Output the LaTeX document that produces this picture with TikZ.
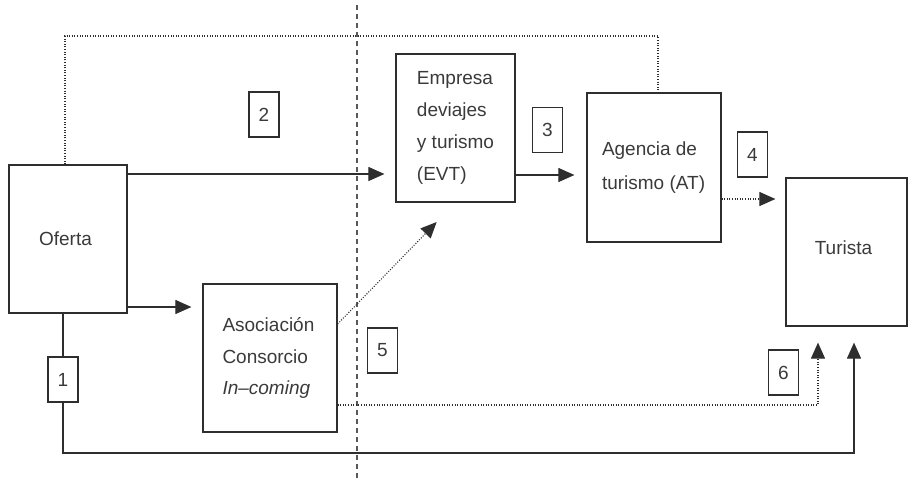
\documentclass[tikz,border=0pt]{standalone}
\usepackage{fontspec}
\setmainfont{Liberation Sans}
\usetikzlibrary{arrows.meta}
\definecolor{ink}{HTML}{2E2E2E}
\definecolor{txt}{HTML}{3A3A3A}
\tikzset{
  every node/.style={font=\fontsize{19}{32}\selectfont, text=txt},
  box/.style={draw=ink, line width=1.2pt, rectangle, inner sep=0pt, align=left},
  numbox/.style={draw=ink, line width=1.1pt, rectangle, inner sep=0pt,
    minimum width=30pt, minimum height=45pt},
  link/.style={draw=ink, line width=1.1pt},
  arr/.style={link, -{Triangle[length=16pt,width=14pt]}},
  dotline/.style={draw=ink, line width=1.1pt, dash pattern=on 1pt off 1.6pt},
  darr/.style={dotline, -{Triangle[length=16pt,width=14pt,sep=0pt]}},
  divider/.style={draw=ink!80, line width=1.4pt, dash pattern=on 4.5pt off 4.5pt}
}
\begin{document}
\begin{tikzpicture}[x=1pt, y=-1pt]
\useasboundingbox (0,0) rectangle (908,482);

% main boxes
\node[box, minimum width=118pt, minimum height=148pt] (ofe) at (68,239)
  {\hspace*{-5pt}Oferta};
\node[box, minimum width=119pt, minimum height=148pt] (evt) at (455.5,128)
  {Empresa\\deviajes\\y turismo\\(EVT)};
\node[box, minimum width=134pt, minimum height=149pt] (at) at (654,167.5)
  {\raisebox{7pt}{\parbox{104pt}{\raggedright\baselineskip=34pt Agencia de\\turismo (AT)}}};
\node[box, minimum width=134pt, minimum height=148pt] (asoc) at (270,358)
  {\raisebox{4pt}{\parbox{95pt}{\raggedright\baselineskip=31.5pt Asociación\\Consorcio\\\textit{In--coming}}}};
\node[box, minimum width=121pt, minimum height=148pt] (tur) at (846.5,252)
  {\raisebox{9pt}{\hspace*{-6pt}Turista}};

% numbered labels
\node[numbox] (n1) at (63,379.5) {1};
\node[numbox] (n2) at (264,114.5) {2};
\node[numbox] (n3) at (547.5,130) {3};
\node[numbox] (n4) at (752.5,154.5) {4};
\node[numbox] (n5) at (382.5,350.5) {5};
\node[numbox] (n6) at (783.5,372.5) {6};

% vertical divider
\coordinate (divtop) at (357,5);
\coordinate (divbot) at (357,481);
\draw[divider] (divtop) -- (divbot);

% solid flows
\draw[arr, shorten >=11pt] (ofe.east |- 0,174) -- (evt.west |- 0,174);
\draw[arr, shorten >=12pt] (evt.east |- 0,175) -- (at.west |- 0,175);
\draw[arr, shorten >=11pt] (ofe.east |- 0,307) -- (asoc.west |- 0,307);

% Oferta down through label 1, along the bottom and up to Turista
\draw[link] (ofe.south -| n1.north) -- (n1.north);
\draw[arr, shorten >=16pt] (n1.south) |- ([xshift=7.5pt]tur.south |- 0,453)
  -- ([xshift=7.5pt]tur.south);

% dotted flows
\draw[dotline] ([xshift=-3pt]ofe.north) |- ([xshift=4pt]at.north |- 0,36)
  -- ([xshift=4pt]at.north);
\draw[darr, shorten >=10pt] (at.east |- 0,199) -- (tur.west |- 0,199);
\draw[darr, shorten >=27pt] (asoc.east |- 0,324) -- (evt.south);
\draw[darr, shorten >=16pt] (asoc.east |- 0,405) -| ([xshift=-28.5pt]tur.south);
\end{tikzpicture}
\end{document}
